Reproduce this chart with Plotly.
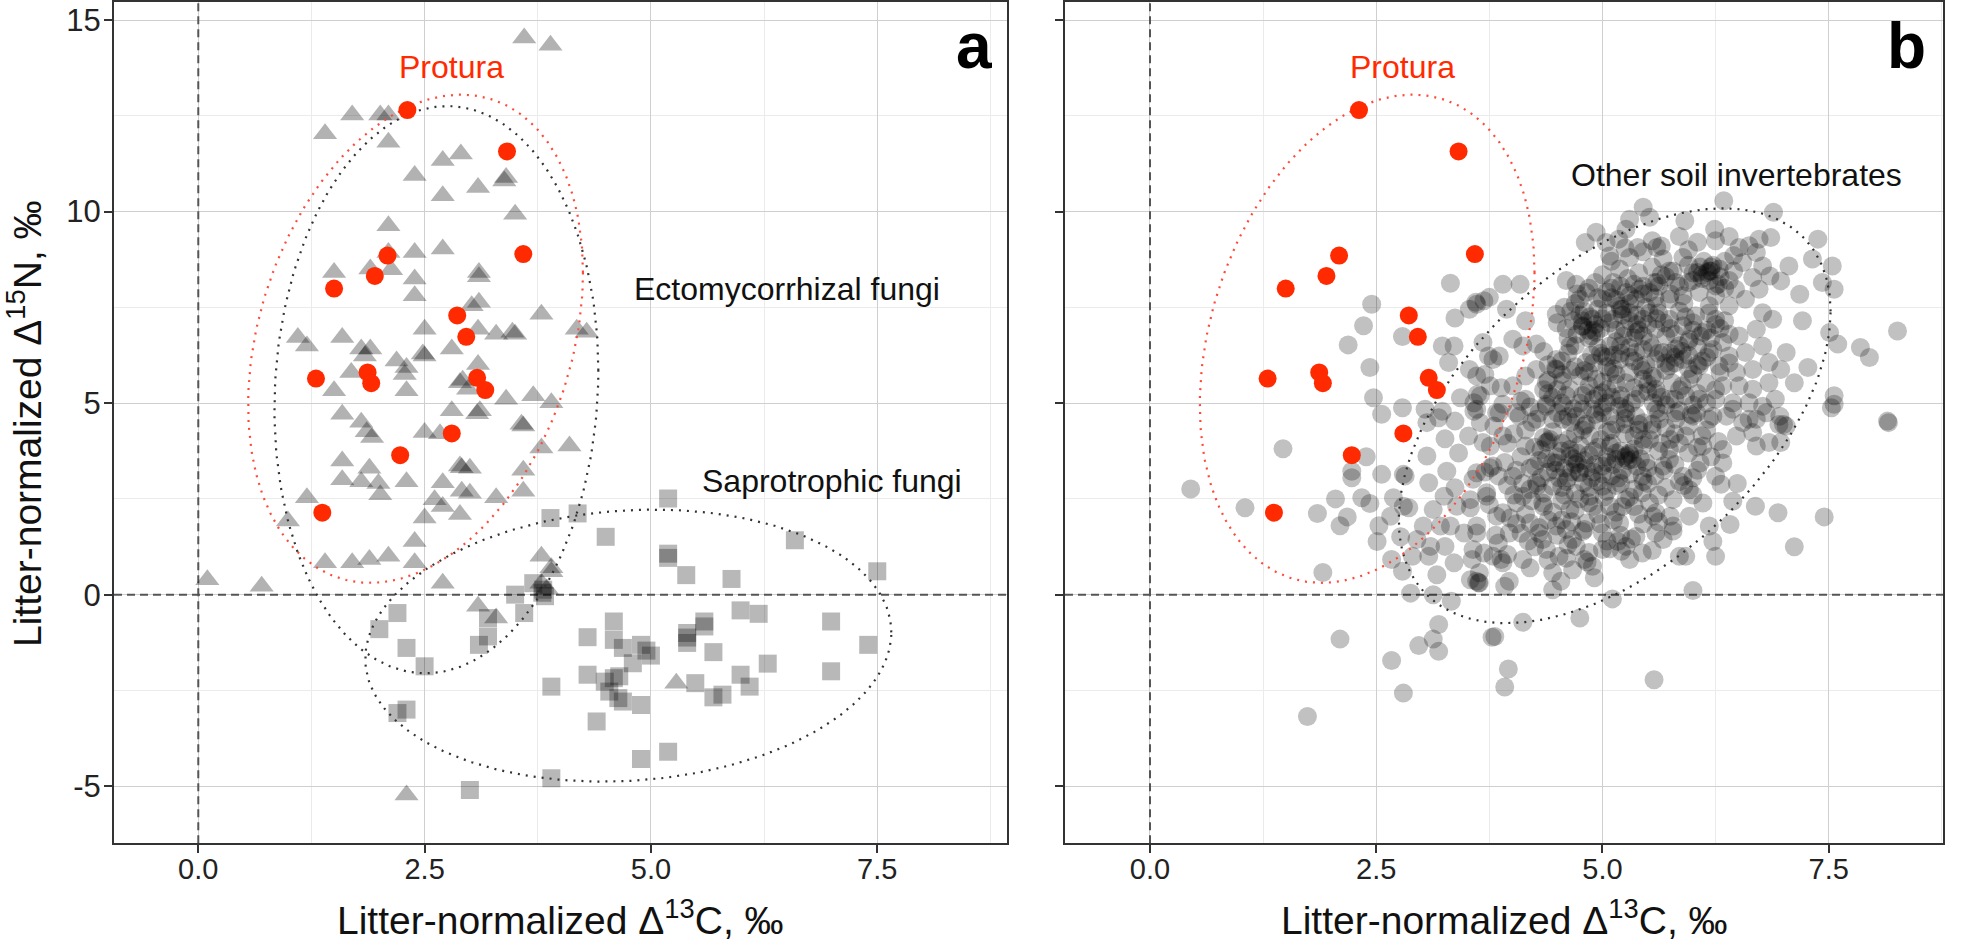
import numpy as np
import plotly.graph_objects as go

# ---------------- data ----------------
# Panel a: ectomycorrhizal fungi (triangles)
ecto_pts = [
    (3.60, 14.53), (3.89, 14.34), (1.70, 12.52), (2.01, 12.52), (2.10, 12.52), (1.40, 12.03),
    (2.10, 11.81), (2.70, 11.33), (2.90, 11.50), (3.40, 10.89), (3.38, 10.80), (2.39, 10.94),
    (3.09, 10.63), (2.70, 10.41), (3.50, 9.93), (2.10, 9.63), (2.39, 8.93), (2.70, 9.02),
    (2.10, 8.93), (2.13, 8.48), (1.90, 8.50), (1.50, 8.41), (2.39, 8.24), (2.39, 7.80),
    (3.10, 8.41), (3.10, 8.30), (3.79, 7.32), (3.02, 7.54), (3.10, 7.63), (3.09, 6.93),
    (3.29, 6.80), (3.50, 6.80), (3.47, 6.85), (2.50, 6.93), (2.80, 6.41), (2.50, 6.23),
    (2.48, 6.28), (1.10, 6.71), (1.20, 6.49), (1.59, 6.71), (1.80, 6.41), (1.90, 6.41),
    (1.84, 6.23), (2.19, 6.10), (2.30, 5.93), (2.28, 5.75), (1.69, 5.80), (1.50, 5.32),
    (2.30, 5.32), (2.89, 5.53), (2.92, 5.60), (2.98, 5.36), (3.09, 6.01), (3.40, 5.10),
    (3.70, 5.19), (3.90, 5.01), (1.59, 4.71), (1.80, 4.50), (2.80, 4.80), (3.11, 4.80),
    (3.08, 4.72), (3.59, 4.40), (3.57, 4.45), (1.86, 4.25), (1.92, 4.10), (2.50, 4.23),
    (2.67, 4.20), (3.79, 3.83), (1.59, 3.49), (1.59, 3.00), (1.89, 3.30), (1.80, 2.95),
    (1.99, 2.90), (2.01, 2.61), (2.30, 2.95), (2.91, 3.31), (2.89, 3.36), (3.00, 3.30),
    (2.70, 2.92), (2.91, 2.70), (3.00, 2.65), (2.61, 2.48), (2.70, 2.30), (2.89, 2.09),
    (2.50, 2.00), (3.29, 2.53), (3.59, 2.70), (3.59, 3.25), (1.20, 2.53), (0.99, 1.92),
    (2.39, 1.39), (1.40, 0.83), (1.70, 0.83), (1.89, 0.92), (2.10, 1.00), (2.39, 0.83),
    (2.70, 0.30), (0.10, 0.39), (0.70, 0.22), (3.09, -0.30), (3.29, -0.61), (3.79, 1.00),
    (3.90, 0.60), (3.79, 0.30), (3.85, 0.15), (2.30, -5.23), (4.10, 3.88), (3.90, 0.70),
    (5.28, -2.31), (4.18, 6.93), (4.29, 6.85),
]
ecto_x = [p[0] for p in ecto_pts]
ecto_y = [p[1] for p in ecto_pts]

# Panel a: saprotrophic fungi (squares)
sapro_pts = [
    (3.89, 2.00), (3.60, -0.48), (3.50, 0.00), (3.70, 0.30), (3.81, 0.13), (3.83, -0.04),
    (3.80, 0.05), (2.20, -0.48), (2.00, -0.90), (3.20, -0.61), (3.20, -1.09), (3.10, -1.31),
    (2.30, -1.39), (2.50, -1.87), (3.90, -2.40), (2.20, -3.09), (2.30, -3.00), (3.90, -4.79),
    (3.00, -5.10), (4.19, 2.12), (5.19, 2.51), (4.50, 1.51), (5.19, 0.96), (5.19, 1.07),
    (5.39, 0.51), (5.89, 0.41), (6.59, 1.42), (7.50, 0.61), (5.99, -0.41), (6.19, -0.50),
    (6.99, -0.70), (7.40, -1.31), (6.99, -2.00), (6.29, -1.80), (5.99, -2.09), (6.09, -2.40),
    (5.79, -2.61), (5.69, -2.68), (5.69, -1.50), (5.49, -2.31), (5.59, -0.70), (5.59, -0.83),
    (5.40, -1.00), (5.40, -1.26), (5.40, -1.12), (4.59, -0.70), (4.59, -1.18), (4.30, -1.11),
    (4.69, -1.39), (4.89, -1.31), (4.95, -1.46), (5.00, -1.59), (4.80, -1.79), (4.30, -2.09),
    (4.49, -2.27), (4.59, -2.18), (4.65, -2.13), (4.54, -2.53), (4.64, -2.70), (4.69, -2.79),
    (4.89, -2.88), (4.40, -3.31), (4.89, -4.29), (5.19, -4.10),
]
sapro_x = [p[0] for p in sapro_pts]
sapro_y = [p[1] for p in sapro_pts]

# Protura (both panels)
protura_x = [2.31, 3.41, 3.59, 2.09, 1.95, 1.50, 2.86, 2.96, 1.30, 1.87, 1.91, 3.08, 3.17, 2.80, 2.23, 1.37]
protura_y = [12.65, 11.57, 8.89, 8.85, 8.32, 7.99, 7.29, 6.73, 5.64, 5.80, 5.52, 5.66, 5.34, 4.21, 3.64, 2.14]

# Panel b: other soil invertebrates
others_left = [
    (3.32, 8.13), (2.45, 7.58), (2.36, 7.02), (2.19, 6.52), (2.79, 6.74), (3.37, 7.22), (3.61, 7.58),
    (3.69, 7.67), (2.43, 5.93), (3.23, 6.49), (3.36, 6.49), (3.30, 6.06), (3.61, 5.71), (3.74, 6.23),
    (2.47, 5.14), (2.56, 4.71), (2.79, 4.88), (3.04, 4.84), (3.23, 4.79), (3.58, 4.79), (3.65, 5.19),
    (3.76, 5.45), (3.37, 4.53), (3.58, 5.01), (3.43, 5.14), (3.06, 4.49), (3.19, 4.62), (3.65, 4.49),
    (1.47, 3.81), (0.45, 2.76), (1.05, 2.27), (1.85, 2.12), (2.05, 2.50), (2.18, 2.03), (2.10, 1.80),
    (2.34, 2.53), (2.43, 2.38), (2.23, 3.22), (2.23, 3.05), (2.39, 3.60), (1.91, 0.58), (2.10, -1.16),
    (2.67, -1.72), (2.80, -2.57), (1.74, -3.18), (2.97, -1.33), (3.13, -1.16), (3.19, -1.48),
    (3.19, -0.78), (3.78, -1.11), (2.88, 0.04), (3.13, 0.00), (3.33, -0.17), (3.17, 0.52),
    (2.79, 0.61), (2.67, 0.92), (2.90, 1.00), (2.51, 1.39), (2.77, 1.51), (2.53, 1.80), (2.66, 2.05),
    (2.86, 2.27), (2.56, 3.14), (2.80, 3.14), (2.82, 3.10), (2.69, 2.53), (2.80, 2.31), (3.26, 4.07),
    (3.06, 3.62), (3.08, 2.92), (3.28, 3.22), (3.41, 3.70), (3.08, 1.00), (3.10, 1.26), (3.26, 1.26),
    (3.36, 0.83), (3.54, 0.39), (3.63, 0.31), (3.54, 2.27), (3.52, 4.14), (3.37, 2.79), (3.21, 1.79),
    (3.56, 0.92), (3.76, 3.31), (3.61, 3.18), (3.72, 2.57), (3.61, 1.61), (3.69, 1.09), (3.47, 1.61),
    (3.54, 2.48), (3.76, 3.88), (3.39, 2.31), (3.25, 2.57), (3.13, 2.22), (3.32, 1.79), (2.95, 1.44),
    (3.02, 1.79),
]
others_lower = [
    (8.16, 4.49), (7.53, 4.88), (7.45, 2.03), (7.12, 1.25), (6.94, 2.14), (6.69, 2.31), (6.41, 1.83),
    (6.25, 1.00), (6.22, 1.39), (6.18, 1.79), (6.44, 2.44), (6.49, 2.90), (6.31, 2.88), (6.00, 0.11),
    (5.57, -2.22), (5.11, -0.11), (4.75, -0.61), (4.12, -0.72), (3.81, -1.09), (3.96, -1.94),
    (3.92, -2.41), (4.45, 0.13), (4.54, 0.35), (4.91, 0.44), (4.67, 0.65), (3.92, 0.22), (3.64, 0.31),
    (5.78, 1.66), (6.97, 3.97), (6.95, 4.44), (6.70, 3.88), (5.92, 1.00), (5.44, 1.09), (5.30, 0.92),
    (5.21, 1.13), (5.17, 1.39), (4.80, 0.92), (4.20, 0.70), (3.88, 0.92), (3.61, 0.35), (4.38, 3.97),
    (3.61, 4.84), (3.86, 4.75), (4.08, 4.66), (4.38, 4.92), (4.56, 4.58), (4.78, 4.84), (5.00, 4.75),
    (5.19, 4.92), (5.37, 4.66), (5.59, 4.84), (5.81, 4.58), (6.04, 4.75), (6.22, 4.66), (6.44, 4.84),
    (6.62, 4.58), (6.81, 4.75), (7.03, 4.40),
    (3.68, 3.97), (3.90, 4.14), (4.15, 3.88), (4.42, 4.05), (4.64, 3.79), (4.86, 4.14), (5.08, 3.88),
    (5.30, 3.70), (5.52, 4.05), (5.74, 3.79), (5.92, 4.14), (6.11, 3.88), (6.33, 3.79), (6.48, 4.14),
    (6.66, 4.23), (6.84, 3.97),
    (3.57, 3.01), (3.79, 3.36), (4.01, 3.09), (4.27, 2.92), (4.49, 3.44), (4.64, 3.62), (4.75, 3.18),
    (4.79, 2.92), (5.00, 3.36), (5.15, 3.53), (5.26, 3.62), (5.33, 3.53), (5.44, 3.09), (5.67, 3.36),
    (5.74, 3.53), (5.89, 3.09), (6.08, 3.44), (6.25, 3.09), (6.33, 3.44),
    (3.72, 2.66), (3.90, 2.14), (4.12, 2.57), (4.34, 2.39), (4.45, 2.83), (4.64, 2.22), (4.86, 2.57),
    (5.00, 2.83), (5.08, 2.31), (5.26, 2.48), (5.44, 2.66), (5.59, 2.14), (5.78, 2.48), (5.96, 2.74),
    (6.11, 2.39),
    (3.61, 1.79), (3.83, 2.05), (3.97, 1.61), (4.20, 1.87), (4.34, 1.44), (4.49, 1.79), (4.67, 1.44),
    (4.82, 1.87), (5.00, 1.61), (5.19, 1.87), (5.26, 1.26), (5.37, 1.52), (5.56, 2.05), (5.59, 1.61),
    (5.78, 1.79), (5.96, 2.05),
    (3.57, 1.18), (3.79, 1.00), (3.90, 0.83), (4.12, 0.92), (4.38, 1.18), (4.52, 1.00), (4.71, 1.26),
    (4.89, 0.74), (5.00, 1.18), (5.67, 1.44), (5.85, 1.00), (3.64, 0.57), (3.97, 0.35), (4.45, 0.57),
    (4.70, 3.40), (4.74, 3.20), (4.68, 3.55), (5.24, 3.58), (5.30, 3.66),
]
others_upper = [
    (6.34, 10.28), (6.89, 9.98), (7.38, 9.28), (7.54, 8.58), (7.56, 7.97), (7.43, 8.15), (7.32, 8.76),
    (7.18, 7.84), (7.21, 7.15), (8.26, 6.88), (7.85, 6.45), (7.95, 6.19), (7.60, 6.54), (7.51, 6.84),
    (7.27, 5.93), (7.56, 5.19), (7.56, 4.97), (8.15, 4.53), (7.03, 6.32), (6.97, 5.88), (7.12, 5.53),
    (6.86, 9.32), (6.73, 9.28), (6.62, 9.11), (5.91, 9.76), (6.24, 9.54), (6.25, 9.24), (5.45, 10.11),
    (5.52, 9.85), (5.30, 9.80), (5.26, 9.54), (4.93, 9.46), (4.81, 9.19), (5.18, 9.28), (5.39, 9.06),
    (5.55, 9.24), (5.60, 9.06), (5.30, 8.80), (5.04, 9.19), (5.89, 8.80), (6.05, 8.41), (6.18, 8.45),
    (6.29, 8.50), (6.51, 9.06), (6.55, 8.67), (6.70, 8.93), (6.77, 8.58), (6.66, 8.28), (6.85, 8.32),
    (6.97, 8.19), (7.06, 8.58), (6.73, 7.97), (6.47, 7.97), (6.25, 8.06), (6.16, 8.41), (5.19, 8.50),
    (5.08, 8.84), (5.67, 8.76), (5.74, 8.45), (5.81, 8.15), (5.57, 8.15), (5.41, 7.97), (5.26, 7.89),
    (5.12, 8.15), (4.71, 8.10), (4.82, 7.89), (4.09, 8.10), (3.90, 8.10), (3.75, 7.76), (3.60, 7.63),
    (3.94, 7.45), (4.49, 7.32), (4.15, 7.15), (3.68, 6.58), (3.86, 6.23), (4.01, 6.67), (4.12, 6.49),
    (4.27, 6.54), (3.70, 5.75), (3.88, 5.40), (4.01, 5.45), (4.15, 5.71), (3.62, 5.23), (3.90, 4.97),
    (4.05, 4.75), (4.15, 5.10), (4.38, 4.97), (4.49, 5.88), (4.49, 6.14), (4.64, 6.49), (4.78, 7.02),
    (4.89, 7.19), (4.75, 7.71), (5.00, 7.71), (5.19, 7.54), (5.37, 7.71), (5.52, 7.89), (5.60, 7.54),
    (5.74, 7.71), (5.89, 7.80), (6.07, 7.89), (6.18, 7.54), (6.03, 7.28), (5.89, 7.02), (5.74, 7.19),
    (5.59, 6.93), (5.45, 7.19), (5.30, 7.36), (5.12, 7.19), (4.93, 6.84), (5.08, 6.49), (5.23, 6.75),
    (5.37, 6.84), (5.52, 6.58), (5.67, 6.32), (5.81, 6.41), (5.96, 6.67), (6.11, 6.84), (6.25, 7.19),
    (6.40, 7.54), (6.58, 7.71), (6.77, 7.36), (6.88, 7.19), (6.70, 6.93), (6.51, 6.75), (6.33, 6.58),
    (6.18, 6.32), (6.40, 6.23), (6.58, 6.32), (6.77, 6.49), (6.84, 6.06), (6.66, 5.88), (6.48, 5.80),
    (6.29, 5.97), (6.07, 5.97), (5.89, 6.14), (5.74, 5.97), (5.59, 6.14), (5.37, 6.32), (5.19, 6.14),
    (5.00, 6.23), (4.82, 6.06), (4.75, 5.71), (4.93, 5.62), (5.08, 5.80), (5.26, 5.53), (5.45, 5.62),
    (5.59, 5.36), (5.77, 5.53), (5.96, 5.62), (6.14, 5.53), (6.33, 5.45), (6.51, 5.45), (6.66, 5.36),
    (6.84, 5.53), (6.91, 5.10), (6.77, 4.92), (6.62, 5.01), (6.44, 5.01), (6.25, 5.10), (6.07, 5.10),
    (5.92, 5.19), (5.74, 5.10), (5.56, 5.01), (5.37, 5.10), (5.19, 5.10), (5.00, 5.27), (4.82, 5.27),
    (4.64, 5.36), (4.57, 4.92), (4.71, 4.66), (4.89, 4.84), (5.08, 4.66), (5.26, 4.75), (5.45, 4.49),
    (5.63, 4.58), (5.81, 4.75), (6.00, 4.66), (6.18, 4.58), (6.37, 4.66), (6.55, 4.49), (6.70, 4.58),
    (6.96, 4.66), (7.00, 4.44), (3.53, 7.45), (3.53, 5.88), (3.79, 6.14), (4.27, 5.88), (4.38, 5.53),
    (4.56, 5.58), (3.83, 4.75), (4.27, 4.58), (4.45, 4.58), (4.95, 7.75), (5.45, 7.85), (6.20, 8.45),
    (5.95, 6.60), (4.78, 7.00),
]
# densest core of the cloud (individual points not resolvable; estimated)
others_core = [
    (4.70, 7.60), (4.80, 7.40), (4.86, 7.25), (4.92, 7.05), (4.84, 6.90), (4.98, 6.95), (5.05, 7.35),
    (5.15, 7.70), (5.22, 7.45), (5.30, 7.60), (5.38, 7.30), (5.48, 7.50), (5.58, 7.75), (5.62, 7.35),
    (5.50, 7.05), (5.40, 6.90), (5.25, 6.95), (5.15, 6.60), (5.30, 6.45), (5.45, 6.40), (5.20, 6.30),
    (5.05, 6.20), (4.95, 6.45), (4.85, 6.70), (4.72, 6.80), (4.68, 7.15), (4.60, 6.95), (4.58, 7.50),
    (5.10, 8.00), (5.35, 8.10), (5.62, 8.05), (5.70, 8.30),
    (5.75, 6.30), (5.85, 6.50), (5.95, 6.25), (6.05, 6.45), (5.80, 6.05), (5.70, 6.75), (6.00, 6.90),
    (6.10, 6.10), (6.20, 6.70), (6.30, 6.95), (6.10, 8.25), (6.22, 8.60), (6.30, 8.30), (6.08, 8.55),
    (6.40, 8.20), (6.35, 8.70), (5.95, 8.60), (6.00, 8.20),
    (4.40, 6.00), (4.55, 5.75), (4.70, 5.95), (4.85, 5.80), (5.00, 5.55), (5.12, 5.90), (5.30, 5.80),
    (5.42, 5.95), (5.55, 5.70), (5.70, 5.85), (5.85, 5.35), (5.65, 5.15), (5.50, 5.30), (5.35, 5.40),
    (5.20, 5.20), (5.05, 5.00), (4.90, 5.10), (4.75, 5.00), (4.60, 5.20), (4.45, 5.15), (4.35, 5.35),
    (4.50, 4.75), (4.65, 4.50), (4.80, 4.40), (4.95, 4.55), (5.10, 4.30), (5.25, 4.45), (5.40, 4.30),
    (5.55, 4.45), (5.70, 4.35), (5.85, 4.80), (6.00, 4.95),
    (4.50, 3.60), (4.58, 3.30), (4.62, 3.05), (4.72, 3.70), (4.80, 3.50), (4.82, 3.30), (4.88, 3.05),
    (4.55, 2.80), (4.70, 2.65), (4.40, 3.20), (4.30, 3.50), (4.20, 3.30), (4.10, 3.60), (4.25, 3.85),
    (4.40, 4.00), (4.95, 3.85), (5.05, 3.60), (5.12, 3.40), (5.20, 3.75), (5.28, 3.50), (5.35, 3.80),
    (5.42, 3.55), (5.50, 3.30), (5.22, 3.25), (5.10, 3.10), (4.95, 2.95), (5.05, 2.70), (5.20, 2.90),
    (5.35, 2.75), (5.50, 2.90), (5.62, 2.60), (4.85, 2.40), (4.70, 2.20), (4.55, 2.45), (4.35, 2.65),
    (4.20, 2.75), (4.05, 2.40), (3.95, 2.85), (4.15, 2.10), (4.40, 1.95), (4.60, 1.70), (4.78, 1.65),
    (4.95, 2.10), (5.15, 2.15), (5.35, 2.30), (5.45, 1.85), (4.30, 1.60), (4.05, 1.85), (3.85, 1.35),
    (4.25, 1.25), (4.60, 0.95), (4.85, 1.10), (5.05, 1.40), (5.20, 1.55),
    (5.65, 3.95), (5.80, 4.20), (5.95, 3.70), (6.05, 3.25), (6.20, 3.60), (5.85, 2.95), (5.70, 2.80),
    (6.00, 2.60), (6.15, 4.30), (6.28, 4.00),
    (5.10, 8.70), (5.25, 9.05), (5.45, 8.95), (5.65, 9.10), (5.85, 9.35), (6.05, 9.20), (6.40, 9.35),
    (6.45, 8.85), (5.55, 8.55), (5.95, 9.00),
]
others_core2 = [
    (3.95, 1.05), (4.18, 1.40), (4.40, 0.90), (4.62, 1.30), (4.83, 0.85), (5.08, 1.20), (5.32, 1.45),
    (5.55, 1.15), (3.82, 1.55), (4.50, 1.55),
    (3.75, 2.35), (3.98, 2.00), (4.22, 2.45), (4.45, 2.15), (4.66, 1.90), (4.90, 2.30), (5.12, 1.95),
    (5.30, 2.55), (5.52, 2.40), (5.75, 2.05), (4.02, 2.60), (4.58, 2.60), (5.02, 2.55), (4.30, 1.75),
    (4.80, 1.70),
    (3.70, 3.20), (3.92, 3.45), (4.12, 2.90), (4.32, 3.05), (4.48, 3.25), (4.60, 2.95), (4.72, 3.45),
    (4.90, 3.20), (5.05, 3.45), (5.18, 3.05), (5.38, 3.35), (5.58, 3.10), (5.80, 3.40), (6.00, 3.05),
    (4.38, 3.55), (4.85, 3.65), (5.15, 3.70), (4.55, 3.75), (4.25, 3.35), (5.45, 2.95),
    (3.80, 4.40), (4.02, 4.20), (4.22, 4.50), (4.45, 4.25), (4.62, 4.05), (4.78, 4.30), (4.98, 4.05),
    (5.15, 4.45), (5.35, 4.15), (5.55, 4.30), (5.75, 4.05), (5.95, 4.40), (6.10, 4.15), (4.32, 3.78),
    (4.75, 3.90), (5.45, 3.90), (5.05, 4.25),
    (4.10, 5.05), (4.30, 4.75), (4.50, 5.35), (4.68, 4.85), (4.85, 5.45), (5.00, 4.90), (5.15, 5.50),
    (5.32, 5.00), (5.50, 5.50), (5.70, 4.95), (5.88, 5.45), (6.05, 5.25), (6.25, 5.35), (4.40, 5.60),
    (4.95, 5.20), (5.60, 5.25), (5.25, 4.60),
    (4.35, 6.35), (4.55, 6.10), (4.70, 6.50), (4.88, 6.25), (5.05, 5.95), (5.20, 6.50), (5.35, 6.10),
    (5.55, 6.45), (5.70, 6.05), (5.88, 6.35), (6.05, 6.00), (6.22, 6.40), (6.40, 6.05), (4.65, 5.85),
    (5.45, 5.85), (6.00, 5.75), (5.12, 6.25),
    (4.50, 7.10), (4.65, 7.40), (4.78, 7.15), (4.95, 7.45), (5.08, 7.10), (5.22, 7.30), (5.38, 7.05),
    (5.52, 7.35), (5.68, 7.10), (5.85, 7.40), (6.00, 7.10), (6.18, 7.35), (6.35, 7.15), (4.88, 6.75),
    (5.35, 6.70), (5.80, 6.80), (6.15, 6.90),
    (4.60, 8.20), (4.85, 8.00), (5.00, 8.35), (5.20, 8.05), (5.40, 8.40), (5.60, 8.15), (5.78, 8.45),
    (5.95, 8.15), (6.12, 8.70), (6.28, 8.10), (6.45, 8.45), (5.10, 7.75), (5.75, 7.85), (6.25, 7.80),
    (6.10, 8.35), (6.20, 8.55),
]
others_core3 = [
    (4.10, 1.60), (4.35, 2.30), (4.55, 1.95), (4.75, 2.50), (4.98, 1.85), (5.22, 2.30), (5.40, 2.10),
    (5.62, 1.90),
    (3.85, 3.10), (4.05, 3.25), (4.28, 2.85), (4.45, 3.45), (4.66, 3.20), (4.85, 2.80), (5.00, 3.15),
    (5.15, 2.85), (5.30, 3.15), (5.48, 3.45), (5.68, 3.25), (5.90, 2.85), (4.92, 3.40), (4.52, 3.05),
    (3.95, 3.95), (4.15, 4.30), (4.35, 4.10), (4.55, 3.95), (4.70, 4.20), (4.90, 3.75), (5.10, 3.95),
    (5.25, 4.20), (5.45, 4.05), (5.62, 3.75), (5.85, 3.95), (6.05, 3.85), (4.82, 4.45), (5.40, 4.45),
    (4.20, 4.90), (4.40, 5.25), (4.62, 4.65), (4.78, 5.20), (4.92, 4.70), (5.10, 5.15), (5.25, 4.85),
    (5.42, 5.25), (5.62, 4.75), (5.80, 5.10), (5.98, 4.70), (6.15, 5.00), (4.55, 5.00), (5.05, 5.35),
    (4.48, 5.90), (4.62, 6.30), (4.80, 5.85), (4.98, 6.30), (5.15, 5.75), (5.30, 6.20), (5.48, 6.00),
    (5.62, 6.30), (5.80, 6.20), (5.95, 5.90), (6.15, 6.20), (6.30, 5.80), (4.90, 6.05), (5.58, 5.65),
    (4.62, 6.70), (4.75, 7.30), (4.90, 6.90), (5.00, 7.20), (5.15, 6.90), (5.30, 7.15), (5.45, 6.75),
    (5.60, 7.20), (5.75, 6.95), (5.92, 7.25), (6.08, 6.75), (6.25, 7.05), (6.40, 6.80), (5.20, 7.45),
    (4.72, 7.85), (4.92, 8.15), (5.05, 7.90), (5.28, 8.25), (5.45, 8.05), (5.65, 8.35), (5.85, 8.05),
    (6.00, 8.40), (6.18, 8.20), (6.35, 8.00), (5.30, 7.80), (5.90, 7.60),
]
others_pts = others_left + others_lower + others_upper + others_core + others_core2 + others_core3
others_x = [p[0] for p in others_pts]
others_y = [p[1] for p in others_pts]

# Ellipses: centre x, centre y, var x, var y, cov xy
ell_protura = (2.40, 6.68, 3.42, 40.6, 3.2)
ell_ecto = (2.63, 5.35, 3.2, 54.8, 0.9)
ell_sapro = (4.75, -1.33, 8.44, 12.6, 1.0)
ell_others = (5.135, 4.67, 5.69, 29.3, 6.5)

x_ticks = [0, 2.5, 5, 7.5]
x_ticktext = ["0.0", "2.5", "5.0", "7.5"]
y_ticks = [-5, 0, 5, 10, 15]
y_ticktext = ["-5", "0", "5", "10", "15"]

XR_A = [-0.931, 8.933]
XR_B = [-0.939, 8.763]
YR = [-6.49, 15.47]


def ellipse(params, n=240):
    cx, cy, sxx, syy, sxy = params
    t = np.linspace(0, 2 * np.pi, n)
    a = np.sqrt(sxx)
    l21 = sxy / a
    l22 = np.sqrt(syy - l21 ** 2)
    return cx + a * np.cos(t), cy + l21 * np.cos(t) + l22 * np.sin(t)


FONT = "Liberation Sans, Arial, Helvetica, sans-serif"
RED = "#ff2a00"
ZERO = dict(color="#555555", width=2, dash="8px,5px")

fig = go.Figure()

# dashed zero reference lines (drawn first, under the points)
for xa, ya, xr in [("x", "y", XR_A), ("x2", "y2", XR_B)]:
    fig.add_trace(go.Scatter(x=xr, y=[0, 0], mode="lines", xaxis=xa, yaxis=ya, line=ZERO, hoverinfo="skip"))
    fig.add_trace(go.Scatter(x=[0, 0], y=YR, mode="lines", xaxis=xa, yaxis=ya, line=ZERO, hoverinfo="skip"))

# Panel a
fig.add_trace(go.Scatter(x=ecto_x, y=ecto_y, mode="markers", xaxis="x", yaxis="y",
                         marker=dict(symbol="triangle-up", size=21, color="rgba(0,0,0,0.3)", line=dict(width=0)),
                         hoverinfo="skip"))
fig.add_trace(go.Scatter(x=sapro_x, y=sapro_y, mode="markers", xaxis="x", yaxis="y",
                         marker=dict(symbol="square", size=18, color="rgba(0,0,0,0.28)", line=dict(width=0)),
                         hoverinfo="skip"))
for params, col in [(ell_ecto, "#333333"), (ell_sapro, "#333333"), (ell_protura, "#ff4a3a")]:
    ex, ey = ellipse(params)
    fig.add_trace(go.Scatter(x=ex, y=ey, mode="lines", xaxis="x", yaxis="y",
                             line=dict(color=col, width=2.2, dash="2px,6px"), hoverinfo="skip"))
fig.add_trace(go.Scatter(x=protura_x, y=protura_y, mode="markers", xaxis="x", yaxis="y",
                         marker=dict(symbol="circle", size=18, color=RED, line=dict(width=0)),
                         hoverinfo="skip"))

# Panel b
fig.add_trace(go.Scatter(x=others_x, y=others_y, mode="markers", xaxis="x2", yaxis="y2",
                         marker=dict(symbol="circle", size=19, color="rgba(0,0,0,0.245)", line=dict(width=0)),
                         hoverinfo="skip"))
for params, col in [(ell_others, "#333333"), (ell_protura, "#ff4a3a")]:
    ex, ey = ellipse(params)
    fig.add_trace(go.Scatter(x=ex, y=ey, mode="lines", xaxis="x2", yaxis="y2",
                             line=dict(color=col, width=2.2, dash="2px,6px"), hoverinfo="skip"))
fig.add_trace(go.Scatter(x=protura_x, y=protura_y, mode="markers", xaxis="x2", yaxis="y2",
                         marker=dict(symbol="circle", size=18, color=RED, line=dict(width=0)),
                         hoverinfo="skip"))

axis_common = dict(
    showline=True, mirror=True, linecolor="#333333", linewidth=2,
    ticks="outside", ticklen=8, tickwidth=1.5, tickcolor="#333333",
    showgrid=True, gridcolor="#cfcfcf", gridwidth=1.2, zeroline=False,
    tickmode="array",
)
xtickfont = dict(family=FONT, size=29, color="#222222")
ytickfont = dict(family=FONT, size=31, color="#222222")

W, H = 1961, 946
ydom = [(H - 843.3) / H, (H - 2) / H]

fig.update_layout(
    width=W, height=H, margin=dict(l=0, r=0, t=0, b=0, autoexpand=False),
    paper_bgcolor="white", plot_bgcolor="white", showlegend=False,
    font=dict(family=FONT),
    xaxis=dict(domain=[114 / W, 1007 / W], range=XR_A, anchor="y",
               tickvals=x_ticks, ticktext=x_ticktext, tickfont=xtickfont, ticklabelstandoff=-9,
               minor=dict(tick0=0, dtick=1.25, showgrid=True, gridcolor="#ebebeb", gridwidth=1),
               **axis_common),
    yaxis=dict(domain=ydom, range=YR, anchor="x",
               tickvals=y_ticks, ticktext=y_ticktext, tickfont=ytickfont, ticklabelstandoff=-3,
               minor=dict(tick0=0, dtick=2.5, showgrid=True, gridcolor="#ebebeb", gridwidth=1),
               **axis_common),
    xaxis2=dict(domain=[1065 / W, 1943 / W], range=XR_B, anchor="y2",
                tickvals=x_ticks, ticktext=x_ticktext, tickfont=xtickfont, ticklabelstandoff=-9,
                minor=dict(tick0=0, dtick=1.25, showgrid=True, gridcolor="#ebebeb", gridwidth=1),
                **axis_common),
    yaxis2=dict(domain=ydom, range=YR, anchor="x2",
                tickvals=y_ticks, ticktext=y_ticktext, showticklabels=False, tickfont=ytickfont,
                minor=dict(tick0=0, dtick=2.5, showgrid=True, gridcolor="#ebebeb", gridwidth=1),
                **axis_common),
)

ann = []
# axis titles
xt = "Litter-normalized Δ<sup>13</sup>C, ‰"
for cx in [(114 + 1007) / 2, (1065 + 1943) / 2]:
    ann.append(dict(text=xt, xref="paper", yref="paper", x=cx / W, y=(H - 917) / H,
                    xanchor="center", yanchor="middle", showarrow=False,
                    font=dict(family=FONT, size=39, color="#111111")))
ann.append(dict(text="Litter-normalized Δ<sup>15</sup>N, ‰", xref="paper", yref="paper",
                x=25 / W, y=(H - 424) / H, xanchor="center", yanchor="middle", textangle=-90,
                showarrow=False, font=dict(family=FONT, size=39, color="#111111")))
# panel letters
ann.append(dict(text="<b>a</b>", xref="paper", yref="paper", x=994 / W, y=(H - 46) / H,
                xanchor="right", yanchor="middle", showarrow=False,
                font=dict(family=FONT, size=64, color="black")))
ann.append(dict(text="<b>b</b>", xref="paper", yref="paper", x=1928 / W, y=(H - 46) / H,
                xanchor="right", yanchor="middle", showarrow=False,
                font=dict(family=FONT, size=64, color="black")))
# group labels
ann.append(dict(text="Protura", xref="x", yref="y", x=2.80, y=13.77, showarrow=False,
                font=dict(family=FONT, size=32, color=RED)))
ann.append(dict(text="Ectomycorrhizal fungi", xref="x", yref="y", x=6.50, y=7.97, showarrow=False,
                font=dict(family=FONT, size=32, color="#111111")))
ann.append(dict(text="Saprotrophic fungi", xref="x", yref="y", x=7.0, y=2.97, showarrow=False,
                font=dict(family=FONT, size=32, color="#111111")))
ann.append(dict(text="Protura", xref="x2", yref="y2", x=2.79, y=13.77, showarrow=False,
                font=dict(family=FONT, size=32, color=RED)))
ann.append(dict(text="Other soil invertebrates", xref="x2", yref="y2", x=6.48, y=10.96, showarrow=False,
                font=dict(family=FONT, size=32, color="#111111")))
fig.update_layout(annotations=ann)

fig.write_html("out.html", config={"displayModeBar": False},
               post_script="document.body.style.margin='0';document.body.style.overflow='hidden';")
